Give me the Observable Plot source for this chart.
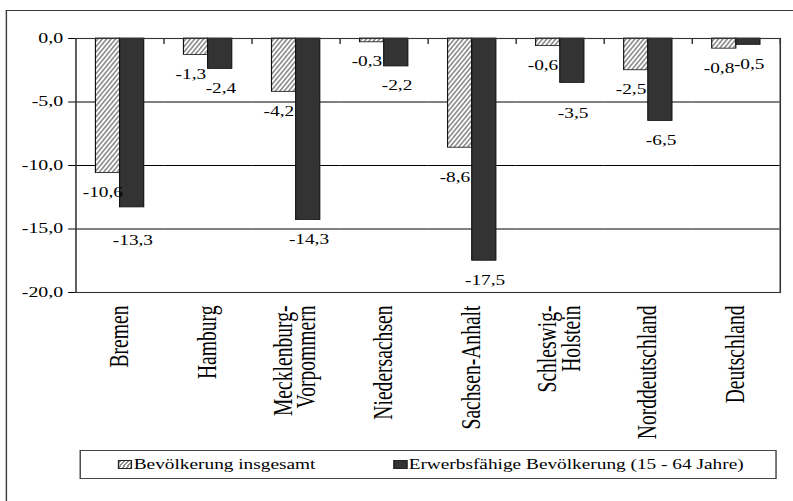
<!DOCTYPE html>
<html>
<head>
<meta charset="utf-8">
<script src="https://cdn.jsdelivr.net/npm/d3@7"></script>
<script src="https://cdn.jsdelivr.net/npm/@observablehq/plot@0.6"></script>
<style>
  html, body { margin: 0; padding: 0; background: #fff; overflow: hidden; }
  /* the whole figure is laid out narrow and widened horizontally */
  #page { position: absolute; left: 0; top: 0; width: 558.45px; height: 501px;
          transform: scaleX(1.42); transform-origin: 0 0;
          font-family: "Liberation Serif", "Times New Roman", serif; color: #000; }
  #border { position: absolute; left: 4.2px; top: 9.5px; width: 700px; height: 700px;
            border-left: 1.1px solid #3c3c3c; border-top: 1.6px solid #3c3c3c; }
  #chart { position: absolute; left: 0; top: 0; }
  #legend { position: absolute; left: 55.6px; top: 450px; width: 491.8px; height: 29px;
            box-sizing: border-box; border: 1px solid #444; border-width: 1.2px 0.9px;
            font-size: 13.6px; background: #fff; }
  .item { position: absolute; top: 0; height: 100%; display: flex; align-items: center; white-space: nowrap; }
  .swatch { width: 9.6px; height: 9px; box-sizing: border-box; border: 0.8px solid #222; margin-right: 1.2px; }
</style>
</head>
<body>
<div id="page">
  <div id="border"></div>
  <div id="chart"></div>
  <div id="legend"></div>
</div>
<script>
// Veränderung der Bevölkerung in Prozent, nach Land
const categories = ["Bremen", "Hamburg", "Mecklenburg-\nVorpommern", "Niedersachsen",
                    "Sachsen-Anhalt", "Schleswig-\nHolstein", "Norddeutschland", "Deutschland"];
const seriesNames = ["Bevölkerung insgesamt", "Erwerbsfähige Bevölkerung (15 - 64 Jahre)"];
const totalChange = [-10.6, -1.3, -4.2, -0.3, -8.6, -0.6, -2.5, -0.8];
const workingAgeChange = [-13.3, -2.4, -14.3, -2.2, -17.5, -3.5, -6.5, -0.5];
const yTicks = [0, -5, -10, -15, -20];

const rows = categories.flatMap((c, i) => [
  {cat: c, series: seriesNames[0], value: totalChange[i]},
  {cat: c, series: seriesNames[1], value: workingAgeChange[i]}
]);

const fmt = v => v.toFixed(1).replace(".", ",");

// value labels sit below the bar end; when one would cross a gridline it moves under it
const labelGap = 1.55, gridStep = 5, clearance = 0.63, underGrid = 0.95;
function labelAt(v) {
  let p = v - labelGap;
  const g = Math.round(p / gridStep) * gridStep;
  if (g < 0 && g > -20 && Math.abs(p - g) < clearance) p = g - underGrid;
  return p;
}

const hatchFill = "url(#hatch)";
const darkFill = "#333333";

const labelText = {fx: "cat", x: "series", y: d => labelAt(d.value), text: d => fmt(d.value),
                   fontSize: 13.6, fill: "#000"};

const chart = Plot.plot({
  width: 558.45,
  height: 440,
  marginLeft: 52.8,
  marginRight: 8.85,
  marginTop: 38,
  marginBottom: 148,
  style: {fontFamily: "Liberation Serif, Times New Roman, serif", fontSize: "14px", color: "#000", background: "transparent", overflow: "visible"},
  fx: {domain: categories, padding: 0},
  x: {domain: seriesNames, paddingInner: 0, paddingOuter: 0.727, axis: null},
  y: {domain: [-20, 0], axis: null},
  marks: [
    Plot.ruleY(yTicks.filter(t => t < 0 && t > -20), {stroke: "#000", strokeWidth: 0.8}),
    Plot.barY(rows.filter(d => d.series === seriesNames[0]),
      {fx: "cat", x: "series", y: "value", fill: hatchFill, stroke: "#111", strokeWidth: 0.8}),
    Plot.barY(rows.filter(d => d.series === seriesNames[1]),
      {fx: "cat", x: "series", y: "value", fill: darkFill, stroke: "#111", strokeWidth: 0.8}),
    Plot.ruleY([0], {stroke: "#000", strokeWidth: 1.2}),
    Plot.frame({anchor: "right", insetBottom: 249, stroke: "#000", strokeWidth: 0.8}),
    Plot.frame({facet: "super", stroke: "#333", strokeWidth: 1.1}),
    Plot.axisY(yTicks, {tickFormat: fmt, tickSize: 5, tickPadding: 4, fontSize: 14, label: null}),
    Plot.axisFx({anchor: "bottom", tickSize: 0, tickPadding: 13, tickRotate: -90,
                 fontSize: 19.6, lineHeight: 0.85, label: null}),
    Plot.text(rows.filter(d => d.series === seriesNames[0]), {...labelText, dx: -3.8}),
    Plot.text(rows.filter(d => d.series === seriesNames[1]), {...labelText, dx: 0.4})
  ]
});

d3.select(chart).insert("defs", ":first-child").html(
  '<pattern id="hatch" patternUnits="userSpaceOnUse" width="2.7" height="8" patternTransform="rotate(30)">' +
  '<rect width="2.7" height="8" fill="#ffffff"/><rect width="1.3" height="8" fill="#8e8e8e"/></pattern>');

document.getElementById("chart").appendChild(chart);

// legend
const legend = d3.select("#legend");
const swatchStyles = [
  "background: repeating-linear-gradient(120deg, #8e8e8e 0 1.2px, #fff 1.2px 2.4px);",
  "background: " + darkFill + ";"
];
const itemLeft = [26.8, 220.4];
seriesNames.forEach((name, i) => {
  const item = legend.append("div").attr("class", "item").style("left", itemLeft[i] + "px");
  item.append("div").attr("class", "swatch").attr("style", swatchStyles[i]);
  item.append("span").text(name);
});
</script>
</body>
</html>
